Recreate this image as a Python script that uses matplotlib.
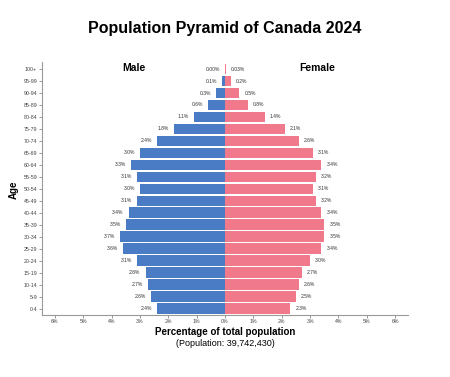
import matplotlib
matplotlib.use('Agg')
import matplotlib.pyplot as plt
import numpy as np

# 연령대 (아래에서 위로)
ages = ['0-4', '5-9', '10-14', '15-19', '20-24', '25-29', '30-34', '35-39',
        '40-44', '45-49', '50-54', '55-59', '60-64', '65-69', '70-74',
        '75-79', '80-84', '85-89', '90-94', '95-99', '100+']

# 남성 / 여성 비율 (%)
male = [2.4, 2.6, 2.7, 2.8, 3.1, 3.6, 3.7, 3.5, 3.4, 3.1, 3.0, 3.1,
        3.3, 3.0, 2.4, 1.8, 1.1, 0.6, 0.3, 0.1, 0.004]
female = [2.3, 2.5, 2.6, 2.7, 3.0, 3.4, 3.5, 3.5, 3.4, 3.2, 3.1, 3.2,
          3.4, 3.1, 2.6, 2.1, 1.4, 0.8, 0.5, 0.2, 0.03]
male_labels = ['2.4%', '2.6%', '2.7%', '2.8%', '3.1%', '3.6%', '3.7%', '3.5%',
               '3.4%', '3.1%', '3.0%', '3.1%', '3.3%', '3.0%', '2.4%', '1.8%',
               '1.1%', '0.6%', '0.3%', '0.1%', '0.00%']
female_labels = ['2.3%', '2.5%', '2.6%', '2.7%', '3.0%', '3.4%', '3.5%', '3.5%',
                 '3.4%', '3.2%', '3.1%', '3.2%', '3.4%', '3.1%', '2.6%', '2.1%',
                 '1.4%', '0.8%', '0.5%', '0.2%', '0.03%']

xticks = [-6, -5, -4, -3, -2, -1, 0, 1, 2, 3, 4, 5, 6]
xtick_labels = ['6%', '5%', '4%', '3%', '2%', '1%', '0%', '1%', '2%', '3%', '4%', '5%', '6%']

plt.rcParams['font.family'] = ['Liberation Sans', 'DejaVu Sans']

fig = plt.figure(figsize=(4.5, 3.77), dpi=100)
ax = fig.add_axes([42 / 450, 1 - 314.5 / 377, 366 / 450, 252 / 377])

y = np.arange(len(ages))
blue = '#4a7cc6'
pink = '#f07a8b'
ax.barh(y, [-v for v in male], height=0.88, color=blue, edgecolor='none')
ax.barh(y, female, height=0.88, color=pink, edgecolor='none')

for i in range(len(ages)):
    ax.text(-male[i] - 0.18, y[i], male_labels[i], ha='right', va='center',
            fontsize=3.6, color='#333333')
    ax.text(female[i] + 0.18, y[i], female_labels[i], ha='left', va='center',
            fontsize=3.6, color='#333333')

ax.set_xlim(-6.45, 6.45)
ax.set_ylim(-0.5, 20.55)
ax.set_yticks(y)
ax.set_yticklabels(ages, fontsize=3.8, color='#444444')
ax.set_xticks(xticks)
ax.set_xticklabels(xtick_labels, fontsize=3.8, color='#444444')
ax.tick_params(axis='both', length=2, width=0.6, color='#888888', pad=1.5)

for s in ['top', 'right']:
    ax.spines[s].set_visible(False)
for s in ['left', 'bottom']:
    ax.spines[s].set_color('#999999')
    ax.spines[s].set_linewidth(0.8)

ax.text(-3.21, 20.1, 'Male', ha='center', va='center', fontsize=7.5, fontweight='bold')
ax.text(3.25, 20.1, 'Female', ha='center', va='center', fontsize=7.5, fontweight='bold')

fig.text(0.5, 1 - 28 / 377, 'Population Pyramid of Canada 2024', ha='center', va='center',
         fontsize=11.5, fontweight='bold')
fig.text(14 / 450, 1 - 190 / 377, 'Age', rotation=90, ha='center', va='center',
         fontsize=7, fontweight='bold')
fig.text(225 / 450, 1 - 332 / 377, 'Percentage of total population', ha='center', va='center',
         fontsize=7, fontweight='bold')
fig.text(225 / 450, 1 - 343.5 / 377, '(Population: 39,742,430)', ha='center', va='center',
         fontsize=6.5)

fig.savefig('out.png', dpi=100)
